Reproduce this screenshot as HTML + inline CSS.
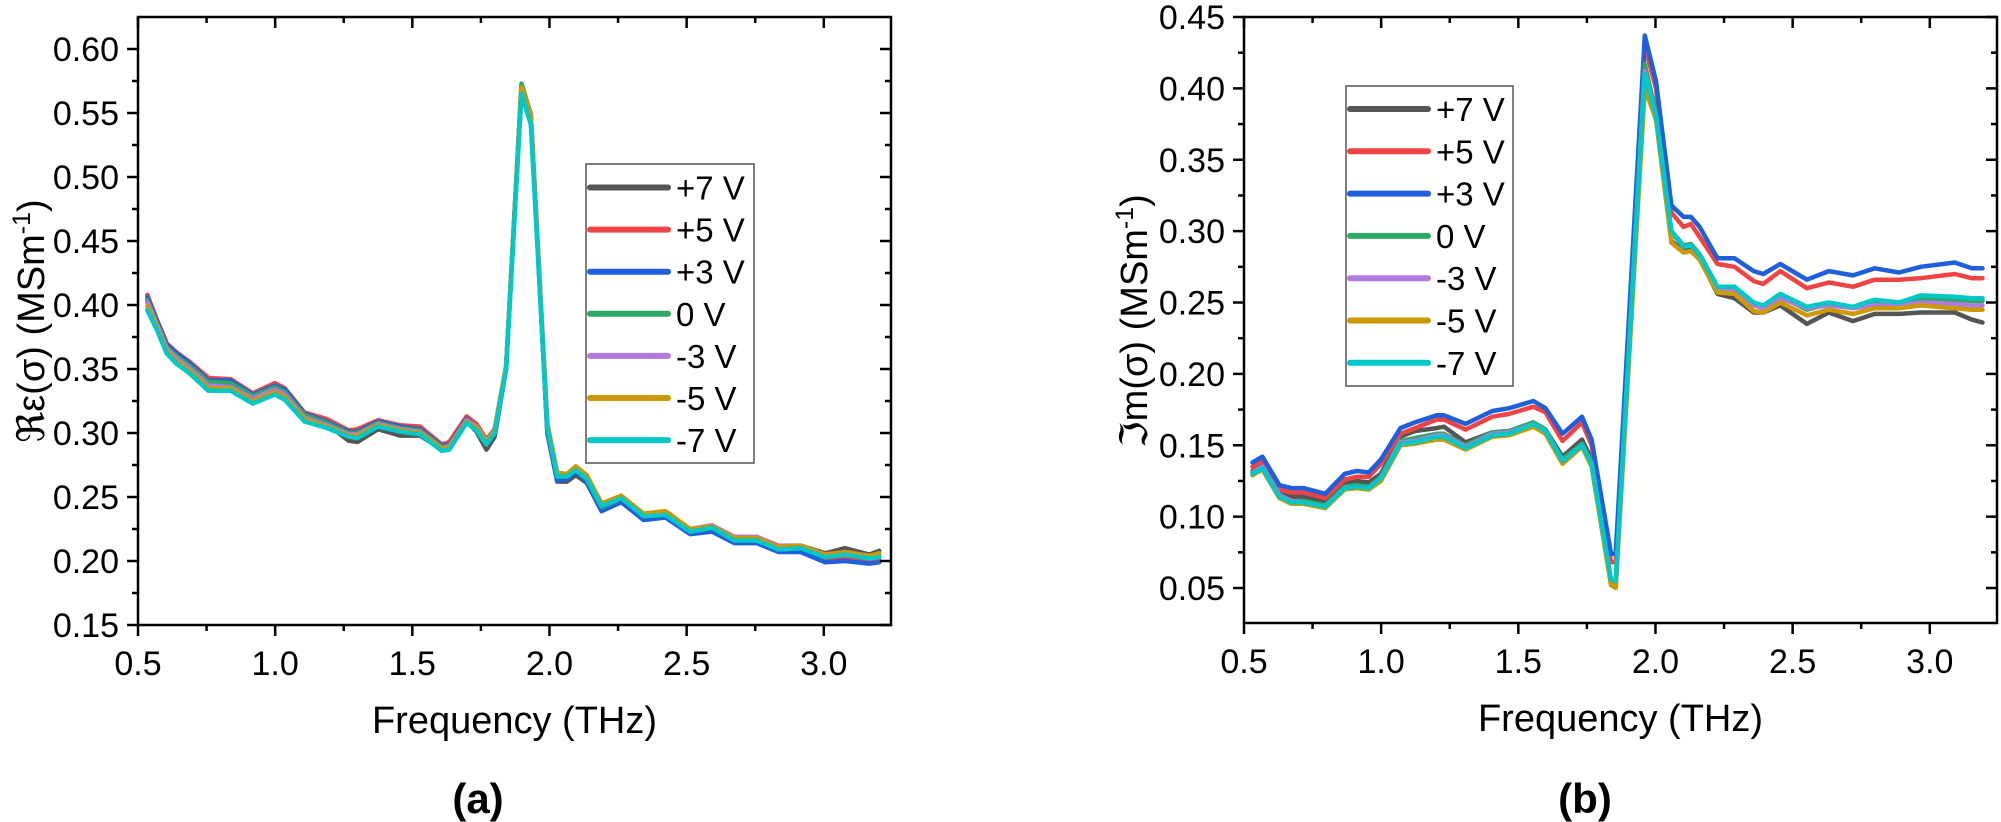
<!DOCTYPE html>
<html><head><meta charset="utf-8"><style>
html,body{margin:0;padding:0;background:#fff;}
svg{display:block;font-family:"Liberation Sans",Arial,sans-serif;}
</style></head><body>
<svg id="fig" width="2001" height="822" viewBox="0 0 2001 822" xmlns="http://www.w3.org/2000/svg"></svg>
<script>
const SERIES_NAMES = ["+7 V","+5 V","+3 V","0 V","-3 V","-5 V","-7 V"];
const SERIES_COLORS = ["#555555","#f04444","#1f5fdc","#2ea866","#b07ae0","#cc9900","#00c8c8"];
const X_TICKS = [0.5,1.0,1.5,2.0,2.5,3.0];
const X_TICK_LABELS = ["0.5","1.0","1.5","2.0","2.5","3.0"];
const A_Y_TICKS = [0.15,0.20,0.25,0.30,0.35,0.40,0.45,0.50,0.55,0.60];
const A_Y_TICK_LABELS = ["0.15","0.20","0.25","0.30","0.35","0.40","0.45","0.50","0.55","0.60"];
const B_Y_TICKS = [0.05,0.10,0.15,0.20,0.25,0.30,0.35,0.40,0.45];
const B_Y_TICK_LABELS = ["0.05","0.10","0.15","0.20","0.25","0.30","0.35","0.40","0.45"];

const A_FREQ = [0.534,0.57,0.605,0.641,0.686,0.757,0.838,0.918,0.999,1.035,1.107,1.187,1.268,1.30,1.375,1.456,1.528,1.608,1.635,1.698,1.734,1.770,1.800,1.842,1.898,1.932,1.992,2.028,2.064,2.096,2.136,2.19,2.262,2.343,2.423,2.513,2.593,2.674,2.755,2.835,2.916,3.005,3.077,3.166,3.202];
const A_P7 = [0.404,0.386,0.368,0.361,0.354,0.341,0.340,0.329,0.336,0.333,0.313,0.307,0.294,0.293,0.303,0.298,0.298,0.287,0.288,0.309,0.301,0.287,0.297,0.350,0.572,0.549,0.300,0.262,0.262,0.267,0.261,0.239,0.246,0.233,0.235,0.222,0.226,0.216,0.218,0.211,0.212,0.206,0.210,0.205,0.208];
const A_P5 = [0.408,0.388,0.370,0.363,0.356,0.343,0.342,0.331,0.339,0.335,0.316,0.311,0.302,0.303,0.310,0.306,0.305,0.291,0.293,0.313,0.307,0.295,0.303,0.352,0.571,0.548,0.303,0.264,0.265,0.271,0.263,0.240,0.247,0.233,0.235,0.222,0.225,0.215,0.216,0.209,0.209,0.201,0.203,0.200,0.201];
const A_P3 = [0.406,0.387,0.369,0.362,0.355,0.341,0.341,0.330,0.337,0.334,0.315,0.309,0.301,0.301,0.309,0.305,0.303,0.290,0.291,0.311,0.305,0.294,0.302,0.350,0.570,0.548,0.302,0.263,0.264,0.270,0.262,0.239,0.246,0.232,0.234,0.221,0.223,0.214,0.214,0.207,0.207,0.199,0.200,0.198,0.199];
const A_Z0 = [0.404,0.385,0.367,0.360,0.353,0.340,0.339,0.329,0.336,0.332,0.314,0.308,0.300,0.300,0.308,0.304,0.302,0.289,0.290,0.310,0.305,0.294,0.302,0.352,0.573,0.549,0.305,0.266,0.266,0.272,0.264,0.242,0.249,0.235,0.237,0.223,0.226,0.216,0.217,0.210,0.211,0.203,0.206,0.202,0.204];
const A_M3 = [0.402,0.384,0.366,0.358,0.351,0.337,0.336,0.327,0.334,0.330,0.312,0.306,0.299,0.299,0.307,0.303,0.301,0.288,0.290,0.310,0.305,0.294,0.302,0.352,0.568,0.550,0.306,0.267,0.267,0.273,0.265,0.244,0.250,0.237,0.238,0.225,0.228,0.219,0.219,0.212,0.212,0.205,0.207,0.204,0.206];
const A_M5 = [0.399,0.382,0.364,0.356,0.349,0.335,0.335,0.325,0.332,0.328,0.311,0.305,0.298,0.298,0.306,0.302,0.300,0.288,0.289,0.309,0.304,0.293,0.302,0.352,0.570,0.548,0.308,0.269,0.268,0.274,0.267,0.245,0.251,0.237,0.239,0.225,0.227,0.218,0.218,0.211,0.212,0.205,0.207,0.204,0.206];
const A_M7 = [0.396,0.380,0.362,0.354,0.347,0.333,0.333,0.323,0.330,0.326,0.309,0.304,0.297,0.296,0.305,0.301,0.299,0.286,0.287,0.308,0.302,0.291,0.300,0.350,0.565,0.541,0.304,0.266,0.266,0.271,0.264,0.243,0.249,0.235,0.236,0.223,0.226,0.216,0.216,0.209,0.210,0.203,0.205,0.202,0.203];

const B_FREQ = [0.531,0.567,0.629,0.673,0.717,0.796,0.867,0.911,0.955,0.999,1.07,1.123,1.202,1.229,1.308,1.405,1.467,1.555,1.599,1.661,1.732,1.767,1.838,1.855,1.961,2.002,2.058,2.102,2.129,2.161,2.226,2.288,2.358,2.393,2.455,2.552,2.632,2.720,2.799,2.888,2.967,3.091,3.153,3.192];
const B_P7 = [0.132,0.136,0.117,0.114,0.114,0.110,0.123,0.125,0.124,0.130,0.156,0.160,0.162,0.163,0.152,0.159,0.160,0.166,0.161,0.142,0.154,0.140,0.055,0.053,0.415,0.383,0.293,0.286,0.287,0.281,0.256,0.253,0.243,0.243,0.248,0.235,0.243,0.237,0.242,0.242,0.243,0.243,0.238,0.236];
const B_P5 = [0.135,0.139,0.119,0.117,0.117,0.113,0.126,0.128,0.128,0.137,0.158,0.162,0.168,0.168,0.161,0.170,0.172,0.177,0.173,0.153,0.166,0.150,0.068,0.068,0.430,0.400,0.313,0.303,0.305,0.296,0.277,0.275,0.265,0.263,0.272,0.260,0.264,0.261,0.266,0.266,0.267,0.270,0.267,0.267];
const B_P3 = [0.138,0.142,0.122,0.120,0.120,0.116,0.130,0.132,0.131,0.140,0.162,0.166,0.171,0.171,0.165,0.174,0.176,0.181,0.176,0.158,0.170,0.154,0.074,0.074,0.437,0.405,0.318,0.310,0.310,0.303,0.281,0.281,0.272,0.270,0.277,0.266,0.272,0.269,0.274,0.271,0.275,0.278,0.274,0.274];
const B_Z0 = [0.131,0.135,0.115,0.111,0.111,0.108,0.121,0.122,0.121,0.128,0.153,0.155,0.158,0.158,0.150,0.159,0.160,0.166,0.161,0.140,0.151,0.138,0.055,0.053,0.417,0.382,0.300,0.290,0.291,0.284,0.261,0.260,0.249,0.247,0.254,0.245,0.249,0.246,0.251,0.250,0.252,0.252,0.251,0.251];
const B_M3 = [0.131,0.135,0.115,0.111,0.110,0.107,0.120,0.121,0.120,0.127,0.152,0.153,0.157,0.157,0.149,0.158,0.159,0.165,0.160,0.139,0.150,0.137,0.054,0.052,0.412,0.380,0.299,0.289,0.290,0.283,0.260,0.259,0.248,0.246,0.253,0.246,0.248,0.246,0.248,0.248,0.250,0.249,0.248,0.248];
const B_M5 = [0.129,0.133,0.113,0.109,0.109,0.106,0.119,0.120,0.119,0.125,0.150,0.151,0.154,0.154,0.147,0.156,0.157,0.163,0.158,0.137,0.149,0.135,0.052,0.050,0.400,0.378,0.292,0.285,0.286,0.280,0.257,0.256,0.244,0.243,0.250,0.241,0.245,0.242,0.246,0.246,0.248,0.246,0.245,0.245];
const B_M7 = [0.130,0.134,0.114,0.110,0.110,0.107,0.120,0.121,0.120,0.127,0.151,0.152,0.156,0.156,0.148,0.157,0.158,0.165,0.160,0.139,0.150,0.137,0.056,0.055,0.410,0.381,0.300,0.289,0.290,0.283,0.261,0.261,0.250,0.248,0.256,0.247,0.250,0.247,0.252,0.250,0.255,0.254,0.253,0.253];

const NS="http://www.w3.org/2000/svg";
const svg=document.getElementById('fig');
function mk(tag,attrs,parent){const e=document.createElementNS(NS,tag);for(const k in attrs)e.setAttribute(k,attrs[k]);(parent||svg).appendChild(e);return e;}

function drawPanel(cfg){
  const g=mk('g',{});
  
  
  const L=cfg.left,R=cfg.right,T=cfg.top,B=cfg.bottom;
  const sx=v=>L+(v-cfg.xmin)/(cfg.xmax-cfg.xmin)*(R-L);
  const sy=v=>B-(v-cfg.ymin)/(cfg.ymax-cfg.ymin)*(B-T);
  const cp=mk('clipPath',{id:'clip-'+cfg.id},g);
  mk('rect',{x:L,y:T,width:R-L,height:B-T},cp);
  const sg=mk('g',{'clip-path':'url(#clip-'+cfg.id+')'},g);
  cfg.series.forEach((vals,i)=>{
    const d=vals.map((v,j)=>(j?'L':'M')+sx(cfg.freq[j]).toFixed(1)+' '+sy(v).toFixed(1)).join(' ');
    const p=mk('path',{d:d,fill:'none',stroke:SERIES_COLORS[i],'stroke-width':4.5,'stroke-linejoin':'round','stroke-linecap':'round'},sg);
    
    
  });
  const fr=mk('rect',{x:L,y:T,width:R-L,height:B-T,fill:'none',stroke:'#000','stroke-width':2.5},g);
  
  
  const xa=mk('g',{},g);
  
  
  X_TICKS.forEach((t,i)=>{
    const x=sx(t);
    mk('line',{x1:x,x2:x,y1:B,y2:B+11,stroke:'#000','stroke-width':2.5},xa);
    mk('line',{x1:x,x2:x,y1:T,y2:T+11,stroke:'#000','stroke-width':2.5},xa);
    const tx=mk('text',{x:x,y:B+50,'font-size':34,'text-anchor':'middle',fill:'#000'},xa);
    tx.textContent=X_TICK_LABELS[i];
    const m=sx(t+0.25);
    if(m<R){mk('line',{x1:m,x2:m,y1:B,y2:B+6,stroke:'#000','stroke-width':2.5},xa);
            mk('line',{x1:m,x2:m,y1:T,y2:T+6,stroke:'#000','stroke-width':2.5},xa);}
  });
  const ya=mk('g',{},g);
  
  
  cfg.yticks.forEach((t,i)=>{
    const y=sy(t);
    mk('line',{x1:L-11,x2:L,y1:y,y2:y,stroke:'#000','stroke-width':2.5},ya);
    mk('line',{x1:R-11,x2:R,y1:y,y2:y,stroke:'#000','stroke-width':2.5},ya);
    const tx=mk('text',{x:L-19,y:y+12,'font-size':34,'text-anchor':'end',fill:'#000'},ya);
    tx.textContent=cfg.ylabels[i];
    const m=sy(t+0.025);
    if(m>T+2){mk('line',{x1:L-6,x2:L,y1:m,y2:m,stroke:'#000','stroke-width':2.5},ya);
              mk('line',{x1:R-6,x2:R,y1:m,y2:m,stroke:'#000','stroke-width':2.5},ya);}
  });
  const xt=mk('text',{x:(L+R)/2,y:B+108,'font-size':38,'text-anchor':'middle',fill:'#000'},g);
  xt.textContent='Frequency (THz)';
  
  
  const yt=mk('text',{x:0,y:0,'font-size':38,'text-anchor':'middle',fill:'#000',transform:'translate('+(cfg.ytitleX)+',321) rotate(-90)'},g);
  yt.innerHTML=cfg.ytitle+'(σ) (MSm<tspan dy="-14" font-size="25">-1</tspan><tspan dy="14">)</tspan>';
  
  
  const pl=mk('text',{x:cfg.labelX,y:813,'font-size':42,'font-weight':'bold','text-anchor':'middle',fill:'#000'},g);
  pl.textContent=cfg.label;
  
  
  const lg=mk('g',{},g);
  
  
  mk('rect',{x:cfg.leg.x,y:cfg.leg.y,width:cfg.leg.w,height:cfg.leg.h,fill:'#fff',stroke:'#555','stroke-width':1.5},lg);
  SERIES_NAMES.forEach((n,i)=>{
    const e=mk('g',{},lg);
    
    
    const y=cfg.leg.y0+i*cfg.leg.dy;
    mk('line',{x1:cfg.leg.x+4,x2:cfg.leg.x+82,y1:y,y2:y,stroke:SERIES_COLORS[i],'stroke-width':6,'stroke-linecap':'round'},e);
    const t=mk('text',{x:cfg.leg.x+90,y:y+12,'font-size':33,fill:'#000'},e);
    t.textContent=n;
  });
}

drawPanel({id:'panel-a',left:138,right:891,top:17,bottom:625,xmin:0.5,xmax:3.245,ymin:0.15,ymax:0.625,
  freq:A_FREQ,series:[A_P7,A_P5,A_P3,A_Z0,A_M3,A_M5,A_M7],yticks:A_Y_TICKS,ylabels:A_Y_TICK_LABELS,
  ytitle:'ℜε',ytitleX:44,label:'(a)',labelX:478,
  leg:{x:586,y:164,w:168,h:299,y0:187.5,dy:42.1}});
drawPanel({id:'panel-b',left:1244,right:1997,top:17,bottom:623,xmin:0.5,xmax:3.245,ymin:0.0255,ymax:0.45,
  freq:B_FREQ,series:[B_P7,B_P5,B_P3,B_Z0,B_M3,B_M5,B_M7],yticks:B_Y_TICKS,ylabels:B_Y_TICK_LABELS,
  ytitle:'ℑm',ytitleX:1147,label:'(b)',labelX:1585,
  leg:{x:1346,y:86,w:167,h:300,y0:109,dy:42.3}});
</script>
</body></html>
